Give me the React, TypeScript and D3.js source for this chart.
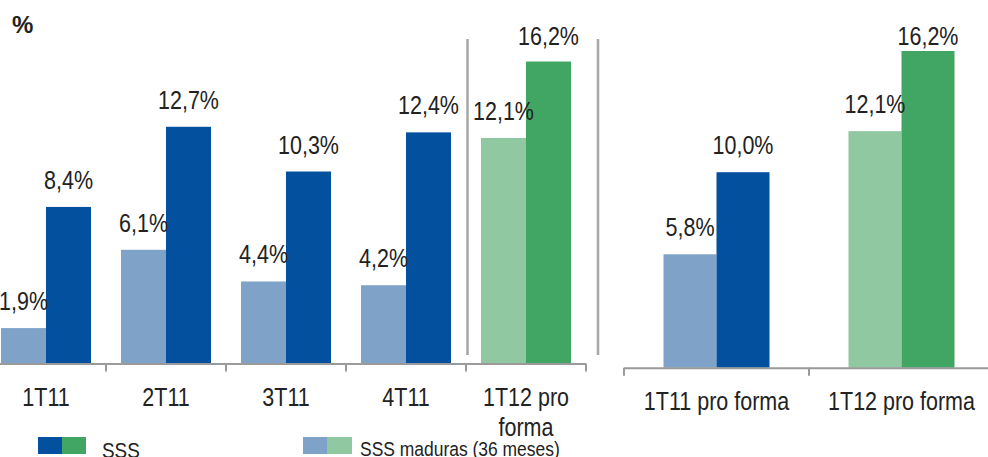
import React from "react";
import * as d3 from "d3";

// Quarterly same-store-sales growth (%)
const quarters = ["1T11", "2T11", "3T11", "4T11", "1T12 pro forma"];
const sssMature = [1.9, 6.1, 4.4, 4.2, 12.1];
const sssTotal = [8.4, 12.7, 10.3, 12.4, 16.2];

// Pro forma comparison
const proFormaPeriods = ["1T11 pro forma", "1T12 pro forma"];
const proFormaMature = [5.8, 12.1];
const proFormaTotal = [10.0, 16.2];

const legendLabels = ["SSS", "SSS maduras (36 meses)"];

const BLUE_DARK = "#03509F";
const BLUE_LIGHT = "#7FA3C8";
const GREEN_DARK = "#41A564";
const GREEN_LIGHT = "#90C8A1";
const AXIS = "#9A9A9A";
const TEXT = "#222222";
const FONT = "'Liberation Sans', Arial, sans-serif";
const SQUEEZE = 0.86; // condensed look for all chart text

const fmt = (v: number) => v.toFixed(1).replace(".", ",") + "%";

type NTProps = {
  x: number;
  y: number;
  size: number;
  anchor?: "start" | "middle" | "end";
  children: React.ReactNode;
};

// Horizontally condensed text, anchored at (x, y)
function NarrowText({ x, y, size, anchor = "start", children }: NTProps) {
  return (
    <text
      transform={`translate(${x},${y}) scale(${SQUEEZE},1)`}
      textAnchor={anchor}
      fontSize={size}
      fill={TEXT}
    >
      {children}
    </text>
  );
}

type PanelProps = {
  cats: string[];
  light: number[];
  dark: number[];
  x0: number;
  x1: number;
  baseline: number;
  pxPerUnit: number;
  paddingInner: number;
  paddingOuter: number;
  greenFrom: number;
  axisFrom: number;
  wrapLabels: boolean;
};

function Panel(p: PanelProps) {
  const x = d3
    .scaleBand<string>()
    .domain(p.cats)
    .range([p.x0, p.x1])
    .paddingInner(p.paddingInner)
    .paddingOuter(p.paddingOuter);
  const maxV = d3.max(p.dark) as number;
  const y = d3
    .scaleLinear()
    .domain([0, maxV])
    .range([p.baseline, p.baseline - maxV * p.pxPerUnit]);
  const bw = x.bandwidth() / 2;
  const step = x.step();
  const centers = p.cats.map((c) => (x(c) as number) + x.bandwidth() / 2);
  const ticks = [centers[0] - step / 2, ...centers.map((c) => c + step / 2)];
  const labelY = (v: number) => Math.max(y(v) - 18, 45);

  return (
    <g>
      {p.cats.map((c, i) => {
        const bx = x(c) as number;
        const green = i >= p.greenFrom;
        return (
          <g key={c}>
            <rect x={bx} y={y(p.light[i])} width={bw} height={p.baseline - y(p.light[i])} fill={green ? GREEN_LIGHT : BLUE_LIGHT} />
            <rect x={bx + bw} y={y(p.dark[i])} width={bw} height={p.baseline - y(p.dark[i])} fill={green ? GREEN_DARK : BLUE_DARK} />
            <NarrowText x={bx + bw / 2} y={labelY(p.light[i])} size={25} anchor="middle">
              {fmt(p.light[i])}
            </NarrowText>
            <NarrowText x={bx + bw * 1.5} y={labelY(p.dark[i])} size={25} anchor="middle">
              {fmt(p.dark[i])}
            </NarrowText>
          </g>
        );
      })}
      <line x1={p.axisFrom} x2={Math.max(...ticks)} y1={p.baseline + 0.5} y2={p.baseline + 0.5} stroke={AXIS} strokeWidth={2} />
      {ticks.map((t, i) => (
        <line key={i} x1={t} x2={t} y1={p.baseline} y2={p.baseline + 8} stroke={AXIS} strokeWidth={2} />
      ))}
      {p.cats.map((c, i) => {
        const words = c.split(" ");
        const lines = p.wrapLabels && words.length > 2 ? [words.slice(0, 2).join(" "), words.slice(2).join(" ")] : [c];
        return (
          <g key={c}>
            {lines.map((l, j) => (
              <NarrowText key={j} x={centers[i]} y={p.baseline + 42 + j * 30} size={25} anchor="middle">
                {l}
              </NarrowText>
            ))}
          </g>
        );
      })}
    </g>
  );
}

export default function App() {
  return (
    <svg
      width={988}
      height={457}
      style={{ position: "fixed", left: 0, top: 0, background: "#fff" }}
      fontFamily={FONT}
    >
      <rect width={988} height={457} fill="#fff" />
      <text x={12} y={33} fontSize={24} fontWeight="bold" fill={TEXT}>
        %
      </text>

      <Panel
        cats={quarters}
        light={sssMature}
        dark={sssTotal}
        x0={-14}
        x1={586}
        baseline={363.5}
        pxPerUnit={18.64}
        paddingInner={0.25}
        paddingOuter={0.125}
        greenFrom={4}
        axisFrom={0}
        wrapLabels={true}
      />

      {/* dividers around the pro forma quarter */}
      <line x1={467.5} x2={467.5} y1={39} y2={355} stroke="#A6A6A6" strokeWidth={2.5} />
      <line x1={598} x2={598} y1={39} y2={355} stroke="#A6A6A6" strokeWidth={2.5} />

      <Panel
        cats={proFormaPeriods}
        light={proFormaMature}
        dark={proFormaTotal}
        x0={624}
        x1={994}
        baseline={367.7}
        pxPerUnit={19.55}
        paddingInner={0.427}
        paddingOuter={0.2135}
        greenFrom={1}
        axisFrom={624}
        wrapLabels={false}
      />

      {/* legend */}
      <rect x={38} y={437} width={24} height={17} fill={BLUE_DARK} />
      <rect x={62} y={437} width={24} height={17} fill={GREEN_DARK} />
      <NarrowText x={102} y={458} size={22}>
        {legendLabels[0]}
      </NarrowText>
      <rect x={303} y={437} width={24} height={17} fill={BLUE_LIGHT} />
      <rect x={327} y={437} width={25} height={17} fill={GREEN_LIGHT} />
      <NarrowText x={360} y={456} size={20.3}>
        {legendLabels[1]}
      </NarrowText>
    </svg>
  );
}
